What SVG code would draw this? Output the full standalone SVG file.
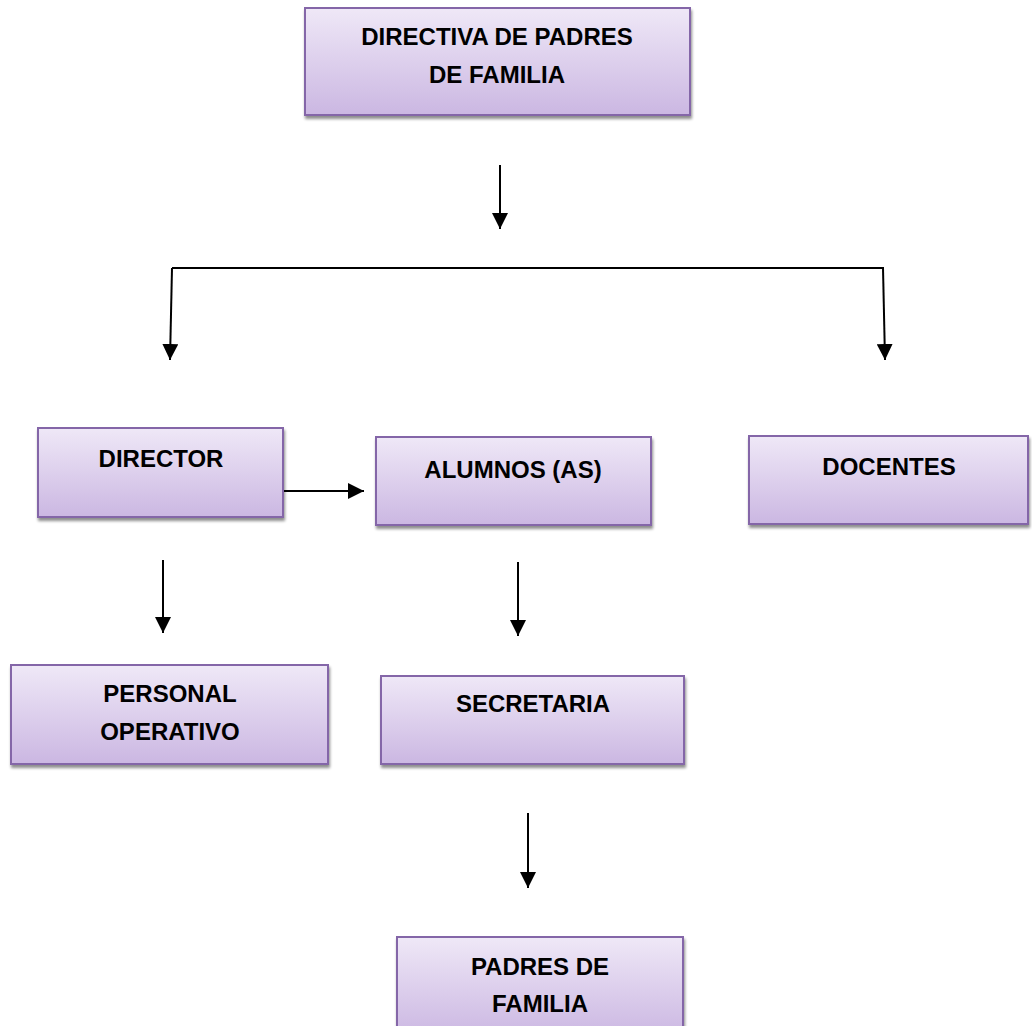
<svg xmlns="http://www.w3.org/2000/svg" width="1032" height="1026" viewBox="0 0 1032 1026">
<defs>
<linearGradient id="g" x1="0" y1="0" x2="0" y2="1">
<stop offset="0" stop-color="#efe8f7"/>
<stop offset="1" stop-color="#cbb7e2"/>
</linearGradient>
<filter id="sh" x="-5%" y="-5%" width="112%" height="125%">
<feGaussianBlur in="SourceAlpha" stdDeviation="1.5"/>
<feOffset dx="1" dy="3" result="b"/>
<feComponentTransfer><feFuncA type="linear" slope="0.45"/></feComponentTransfer>
<feMerge><feMergeNode/><feMergeNode in="SourceGraphic"/></feMerge>
</filter>
<marker id="ah" markerUnits="userSpaceOnUse" markerWidth="16" markerHeight="16" viewBox="0 0 16 16" refX="16" refY="8" orient="auto">
<path d="M0,0 L16,8 L0,16 Z" fill="#000"/>
</marker>
</defs>
<style>
.box{fill:url(#g);stroke:#8466a8;stroke-width:2;filter:url(#sh)}
.t{font-family:"Liberation Sans",Arial,sans-serif;font-weight:bold;font-size:24px;fill:#000;text-anchor:middle}
.c{stroke:#000;stroke-width:2;fill:none}
.a{stroke:#000;stroke-width:2;fill:none;marker-end:url(#ah)}
</style>
<rect width="1032" height="1026" fill="#fff"/>
<g id="connectors">
<line class="a" x1="500" y1="165" x2="500" y2="229"/>
<line class="c" x1="172" y1="268" x2="884" y2="268"/>
<line class="a" x1="172" y1="268" x2="170" y2="360"/>
<line class="a" x1="883" y1="268" x2="885" y2="360"/>
<line class="a" x1="283" y1="491" x2="364" y2="491"/>
<line class="a" x1="163" y1="560" x2="163" y2="633"/>
<line class="a" x1="518" y1="562" x2="518" y2="636"/>
<line class="a" x1="528" y1="813" x2="528" y2="888"/>
</g>
<g id="directiva">
<rect class="box" x="305" y="8" width="385" height="107"/>
<text class="t" x="497" y="45">DIRECTIVA DE PADRES</text>
<text class="t" x="497" y="83">DE FAMILIA</text>
</g>
<g id="director">
<rect class="box" x="38" y="428" width="245" height="89"/>
<text class="t" x="161" y="467">DIRECTOR</text>
</g>
<g id="alumnos">
<rect class="box" x="376" y="437" width="275" height="88"/>
<text class="t" x="513" y="478">ALUMNOS (AS)</text>
</g>
<g id="docentes">
<rect class="box" x="749" y="436" width="279" height="88"/>
<text class="t" x="889" y="475">DOCENTES</text>
</g>
<g id="personal">
<rect class="box" x="11" y="665" width="317" height="99"/>
<text class="t" x="170" y="702">PERSONAL</text>
<text class="t" x="170" y="740">OPERATIVO</text>
</g>
<g id="secretaria">
<rect class="box" x="381" y="676" width="303" height="88"/>
<text class="t" x="533" y="712">SECRETARIA</text>
</g>
<g id="padres">
<rect class="box" x="397" y="937" width="286" height="100"/>
<text class="t" x="540" y="975">PADRES DE</text>
<text class="t" x="540" y="1012">FAMILIA</text>
</g>
</svg>
